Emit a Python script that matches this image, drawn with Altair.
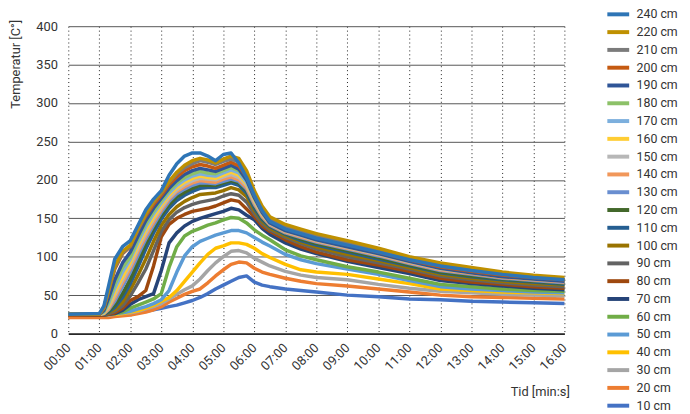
import altair as alt
import pandas as pd

times = [0, 1.0, 1.15, 1.3, 1.5, 1.75, 2.0, 2.25, 2.5, 2.75, 3.0, 3.25, 3.5, 3.75,
         4.0, 4.25, 4.5, 4.75, 5.0, 5.25, 5.5, 5.75, 6.0, 6.25, 6.5, 7.0, 7.5, 8.0,
         9, 10, 11, 12, 13, 14, 15, 16]

s10 = [22, 22, 22, 22, 23, 24, 25, 27, 29, 31, 33, 35, 37, 40, 43, 47, 52, 58, 63, 68, 73, 75, 67, 63, 61, 58, 56, 54, 50, 48, 45, 44, 42, 41, 40, 39]
s20 = [21, 21, 21, 21, 22, 23, 24, 26, 28, 31, 35, 41, 46, 51, 55, 58, 66, 75, 83, 90, 93, 92, 85, 80, 77, 72, 68, 65, 62, 58, 54, 50, 48, 47, 46, 45]
s30 = [24, 24, 24, 24, 25, 26, 27, 29, 32, 35, 39, 45, 51, 57, 62, 71, 82, 92, 100, 107, 108, 105, 98, 93, 88, 81, 76, 73, 70, 64, 59, 55, 53, 51, 50, 49]
s40 = [24, 24, 24, 25, 25, 26, 28, 30, 33, 37, 42, 47, 56, 68, 80, 92, 103, 111, 114, 118, 118, 116, 111, 104, 99, 90, 83, 80, 77, 71, 65, 58, 56, 54, 53, 52]
s50 = [24, 24, 24, 25, 26, 27, 29, 32, 35, 39, 44, 56, 80, 101, 113, 120, 124, 128, 131, 134, 134, 131, 125, 119, 114, 103, 96, 91, 84, 77, 69, 61, 58, 56, 54, 53]
s60 = [24, 24, 24, 25, 26, 28, 33, 37, 41, 45, 52, 86, 113, 127, 133, 137, 141, 144, 148, 151, 150, 144, 135, 128, 122, 109, 101, 96, 87, 80, 72, 64, 61, 58, 56, 55]
s70 = [24, 24, 24, 25, 26, 30, 38, 44, 48, 52, 82, 118, 131, 140, 146, 150, 153, 156, 159, 163, 161, 154, 148, 137, 129, 118, 110, 104, 94, 86, 78, 69, 65, 62, 59, 57]
s80 = [24, 24, 24, 25, 27, 33, 43, 48, 56, 88, 126, 142, 150, 155, 159, 161, 163, 166, 170, 174, 172, 162, 152, 140, 133, 122, 113, 106, 96, 89, 81, 72, 67, 64, 61, 59]
s90 = [25, 25, 25, 26, 29, 36, 49, 66, 84, 108, 133, 148, 158, 164, 168, 171, 173, 175, 179, 182, 180, 171, 156, 143, 135, 125, 117, 110, 100, 92, 84, 75, 70, 66, 63, 61]
s100 = [25, 25, 25, 27, 31, 41, 57, 76, 97, 120, 141, 155, 165, 172, 177, 181, 182, 183, 186, 190, 187, 178, 160, 146, 137, 127, 119, 113, 103, 95, 86, 77, 72, 68, 65, 63]
s110 = [25, 25, 25, 28, 34, 47, 65, 87, 110, 131, 149, 163, 173, 180, 185, 189, 190, 190, 193, 196, 193, 183, 163, 148, 139, 129, 121, 115, 106, 97, 88, 79, 74, 70, 67, 64]
s120 = [25, 25, 26, 29, 37, 52, 71, 94, 117, 137, 154, 168, 178, 184, 189, 193, 193, 193, 196, 199, 196, 186, 166, 150, 140, 130, 123, 117, 108, 99, 89, 80, 75, 71, 68, 65]
s130 = [25, 25, 26, 31, 42, 61, 80, 102, 123, 141, 158, 172, 182, 188, 193, 196, 196, 195, 198, 201, 198, 188, 168, 152, 141, 131, 125, 119, 110, 101, 91, 82, 77, 72, 69, 66]
s140 = [25, 25, 26, 32, 46, 66, 85, 107, 127, 145, 161, 175, 185, 191, 196, 199, 198, 197, 201, 204, 200, 190, 170, 153, 142, 132, 126, 120, 111, 102, 92, 83, 78, 73, 70, 67]
s150 = [25, 25, 27, 34, 50, 70, 89, 111, 131, 149, 164, 177, 187, 194, 199, 202, 201, 200, 204, 207, 203, 193, 172, 155, 143, 133, 127, 121, 112, 103, 93, 84, 79, 74, 71, 68]
s160 = [25, 25, 27, 36, 54, 74, 93, 115, 135, 152, 167, 180, 190, 197, 202, 205, 203, 202, 206, 210, 206, 195, 174, 156, 144, 134, 128, 122, 113, 104, 94, 85, 79, 74, 71, 69]
s170 = [25, 25, 28, 39, 59, 80, 97, 119, 139, 156, 170, 183, 193, 200, 205, 208, 206, 205, 209, 213, 209, 197, 176, 157, 145, 135, 129, 123, 114, 105, 95, 86, 80, 75, 72, 70]
s180 = [25, 25, 29, 42, 64, 86, 100, 123, 143, 159, 173, 186, 196, 203, 208, 211, 209, 208, 212, 216, 212, 200, 178, 159, 146, 136, 130, 124, 115, 105, 95, 86, 80, 75, 72, 69]
s190 = [25, 25, 30, 46, 70, 92, 106, 127, 147, 163, 176, 189, 199, 207, 212, 215, 213, 211, 215, 219, 214, 200, 177, 158, 144, 134, 128, 122, 113, 104, 94, 85, 79, 74, 71, 68]
s200 = [24, 25, 33, 55, 84, 104, 113, 135, 153, 168, 180, 194, 204, 212, 217, 220, 218, 215, 219, 223, 218, 204, 180, 160, 147, 137, 131, 125, 116, 106, 96, 87, 81, 76, 73, 70]
s210 = [25, 25, 34, 56, 86, 105, 114, 135, 155, 171, 183, 197, 208, 216, 221, 225, 223, 220, 224, 227, 223, 207, 182, 162, 148, 139, 133, 127, 118, 108, 98, 89, 83, 78, 74, 71]
s220 = [25, 25, 34, 57, 88, 107, 115, 137, 156, 172, 184, 198, 210, 219, 225, 228, 226, 222, 227, 231, 228, 212, 186, 166, 152, 142, 136, 130, 121, 111, 100, 92, 86, 80, 76, 73]
s240 = [25, 26, 36, 62, 97, 113, 121, 141, 161, 175, 186, 206, 221, 231, 235, 235, 231, 225, 233, 235, 222, 203, 180, 160, 146, 136, 130, 124, 115, 106, 96, 88, 82, 77, 73, 70]

names = ["10 cm", "20 cm", "30 cm", "40 cm", "50 cm", "60 cm", "70 cm", "80 cm",
         "90 cm", "100 cm", "110 cm", "120 cm", "130 cm", "140 cm", "150 cm",
         "160 cm", "170 cm", "180 cm", "190 cm", "200 cm", "210 cm", "220 cm", "240 cm"]
series = [s10, s20, s30, s40, s50, s60, s70, s80, s90, s100, s110, s120, s130,
          s140, s150, s160, s170, s180, s190, s200, s210, s220, s240]
colors = ["#4472C4", "#ED7D31", "#A5A5A5", "#FFC000", "#5B9BD5", "#70AD47",
          "#264478", "#9E480E", "#636363", "#997300", "#255E91", "#43682B",
          "#698ED0", "#F1975A", "#B7B7B7", "#FFCD33", "#7CAFDD", "#8CC168",
          "#2F5597", "#C55A11", "#7B7B7B", "#BF9000", "#2E75B6"]

rows = []
for i, (n, vals) in enumerate(zip(names, series)):
    for t, v in zip(times, vals):
        rows.append({"t": t, "temp": v, "serie": n, "ord": i})
df = pd.DataFrame(rows)

legend_domain = names[::-1]
legend_range = colors[::-1]

chart = alt.Chart(df).mark_line(strokeWidth=3.5, strokeJoin="round").encode(
    x=alt.X("t:Q", scale=alt.Scale(domain=[0, 16], nice=False),
            axis=alt.Axis(values=list(range(17)),
                          labelExpr="(datum.value < 10 ? '0' : '') + datum.value + ':00'",
                          labelAngle=-45, labelAlign="right", labelBaseline="middle",
                          labelOverlap=False, labelBound=False,
                          labelPadding=12, ticks=False, tickSize=0,
                          grid=True, gridColor="#222", gridDash=[1, 3], gridWidth=1,
                          domain=True, domainColor="#000", domainWidth=1.2,
                          title="Tid [min:s]", titleX=507, titleY=59,
                          titleAlign="right", titleBaseline="middle",
                          titleFontWeight="normal", titleFontSize=13,
                          labelFontSize=13, labelColor="#333", titleColor="#333")),
    y=alt.Y("temp:Q", scale=alt.Scale(domain=[0, 400], nice=False),
            axis=alt.Axis(values=list(range(0, 401, 50)), ticks=False, tickSize=0,
                          labelPadding=11, domain=False,
                          grid=True, gridColor="#555", gridWidth=1,
                          title="Temperatur [C°]", titleX=-53, titleY=38,
                          titleAngle=-90, titleAlign="center", titleBaseline="middle",
                          titleFontWeight="normal", titleFontSize=13,
                          labelFontSize=13, labelColor="#333", titleColor="#333")),
    color=alt.Color("serie:N",
                    scale=alt.Scale(domain=legend_domain, range=legend_range),
                    legend=alt.Legend(title=None, orient="none", legendX=548, legendY=-20.5,
                                      symbolType="M-1.7,0H1.7", symbolSize=169,
                                      symbolStrokeWidth=4, labelFontSize=12.5,
                                      labelColor="#333", labelOffset=10,
                                      rowPadding=1, labelLimit=200)),
    order=alt.Order("ord:Q"),
).properties(
    width=502, height=311,
    autosize=alt.AutoSizeParams(type="none"),
    padding={"left": 61, "top": 16, "right": 119, "bottom": 79},
).configure(font="Roboto").configure_view(stroke=None)

chart.save("out.html", embed_options={"renderer": "svg", "actions": False})
